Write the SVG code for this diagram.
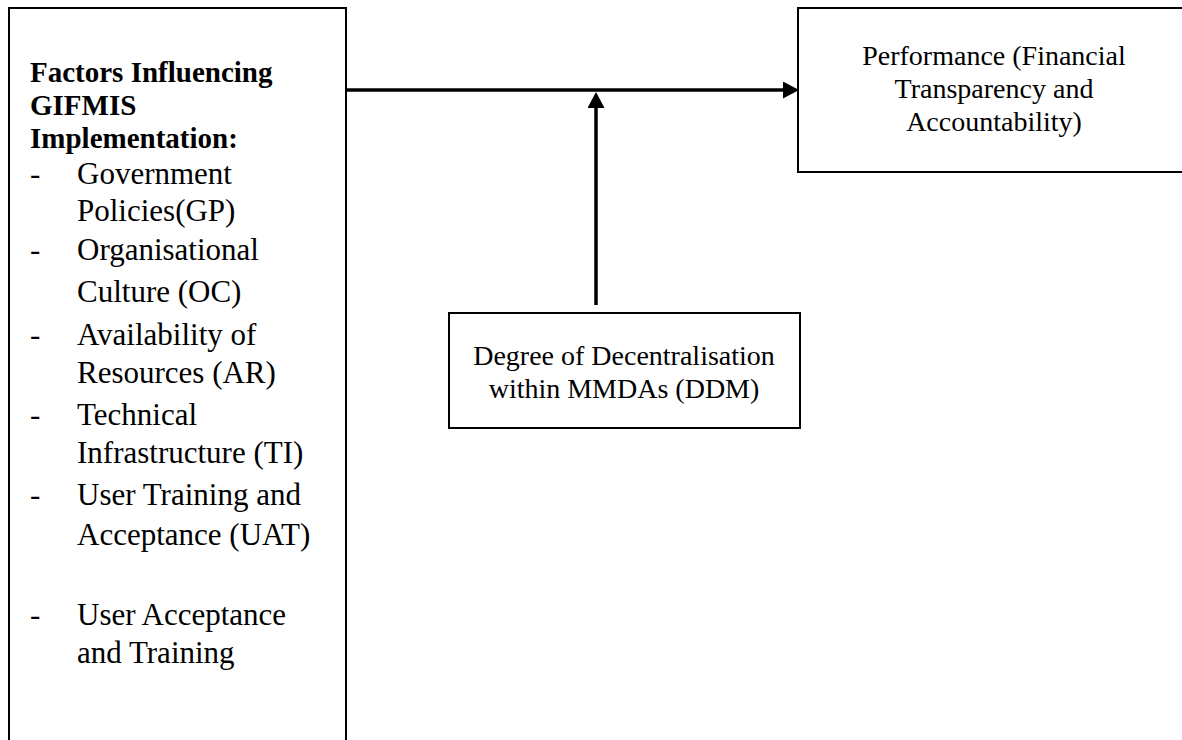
<svg xmlns="http://www.w3.org/2000/svg" width="1182" height="740" viewBox="0 0 1182 740">
<style>
.box{fill:#fff;stroke:#000;stroke-width:2}
.t{font-family:"Liberation Serif","Times New Roman",serif;fill:#000}
.item{font-size:31px}
.ttl{font-size:29px;font-weight:bold}
.c{font-size:28px;text-anchor:middle}
.conn{stroke:#000;stroke-width:3.5;fill:none}
</style>
<defs>
<marker id="ah" markerUnits="userSpaceOnUse" markerWidth="16" markerHeight="18" refX="0" refY="8.5" orient="auto">
<path d="M0,0 L16,8.5 L0,17 z" fill="#000"/>
</marker>
</defs>
<rect width="1182" height="740" fill="#fff"/>
<g id="factors">
<rect class="box" x="9" y="8" width="337" height="760"/>
<text class="t ttl" x="30" y="82">Factors Influencing</text>
<text class="t ttl" x="30" y="115">GIFMIS</text>
<text class="t ttl" x="30" y="148">Implementation:</text>
<g class="t item">
<text x="30" y="184">-</text><text x="77" y="184">Government</text>
<text x="77" y="221">Policies(GP)</text>
<text x="30" y="260">-</text><text x="77" y="260">Organisational</text>
<text x="77" y="302">Culture (OC)</text>
<text x="30" y="345">-</text><text x="77" y="345">Availability of</text>
<text x="77" y="383">Resources (AR)</text>
<text x="30" y="425">-</text><text x="77" y="425">Technical</text>
<text x="77" y="463">Infrastructure (TI)</text>
<text x="30" y="505">-</text><text x="77" y="505">User Training and</text>
<text x="77" y="545">Acceptance (UAT)</text>
<text x="30" y="625">-</text><text x="77" y="625">User Acceptance</text>
<text x="77" y="663">and Training</text>
</g>
</g>
<g id="performance">
<rect class="box" x="798" y="8" width="400" height="164"/>
<text class="t c" x="994" y="65">Performance (Financial</text>
<text class="t c" x="994" y="98">Transparency and</text>
<text class="t c" x="994" y="131">Accountability)</text>
</g>
<g id="ddm">
<rect class="box" x="449" y="313" width="351" height="115"/>
<text class="t c" x="624" y="365">Degree of Decentralisation</text>
<text class="t c" x="624" y="398">within MMDAs (DDM)</text>
</g>
<g id="connectors">
<line class="conn" x1="346" y1="90" x2="783" y2="90" marker-end="url(#ah)"/>
<line class="conn" x1="596" y1="305" x2="596" y2="108" marker-end="url(#ah)"/>
</g>
</svg>
